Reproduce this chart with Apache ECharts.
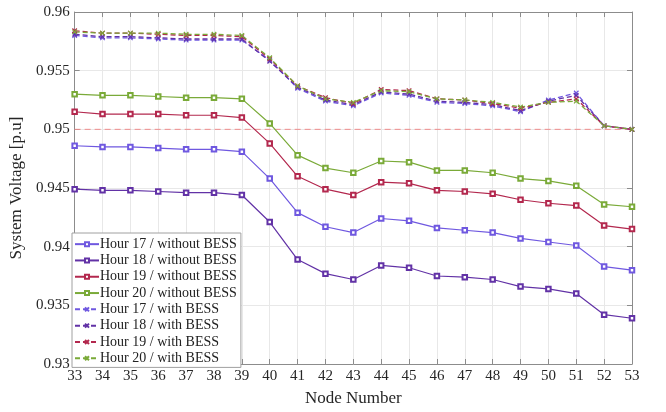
<!DOCTYPE html>
<html>
<head>
<meta charset="utf-8">
<script src="https://cdn.jsdelivr.net/npm/echarts@6/dist/echarts.min.js"></script>
<style>
    html, body { margin: 0; padding: 0; background: #fff; }
    #main { width: 666px; height: 412px; }
</style>
</head>
<body>
<div id="main"></div>
<script>
// 节点编号
let nodes = ['33','34','35','36','37','38','39','40','41','42','43','44','45','46','47','48','49','50','51','52','53'];
// 无储能时各小时电压
let h17Without = [0.9486,0.9485,0.9485,0.9484,0.9483,0.9483,0.9481,0.9458,0.9429,0.9417,0.9412,0.9424,0.9422,0.9416,0.9414,0.9412,0.9407,0.9404,0.9401,0.9383,0.9380];
let h18Without = [0.9449,0.9448,0.9448,0.9447,0.9446,0.9446,0.9444,0.9421,0.9389,0.9377,0.9372,0.9384,0.9382,0.9375,0.9374,0.9372,0.9366,0.9364,0.9360,0.9342,0.9339];
let h19Without = [0.9515,0.9513,0.9513,0.9513,0.9512,0.9512,0.9510,0.9488,0.9460,0.9449,0.9444,0.9455,0.9454,0.9448,0.9447,0.9445,0.9440,0.9437,0.9435,0.9418,0.9415];
let h20Without = [0.9530,0.9529,0.9529,0.9528,0.9527,0.9527,0.9526,0.9505,0.9478,0.9467,0.9463,0.9473,0.9472,0.9465,0.9465,0.9463,0.9458,0.9456,0.9452,0.9436,0.9434];
// 有储能时各小时电压
let h17With = [0.9580,0.9578,0.9578,0.9577,0.9576,0.9576,0.9576,0.9559,0.9535,0.9524,0.9520,0.9531,0.9529,0.9523,0.9522,0.9520,0.9515,0.9525,0.9531,0.9503,0.9500];
let h18With = [0.9581,0.9579,0.9579,0.9578,0.9577,0.9577,0.9577,0.9558,0.9536,0.9525,0.9521,0.9532,0.9530,0.9524,0.9523,0.9521,0.9516,0.9524,0.9529,0.9503,0.9500];
let h19With = [0.9584,0.9582,0.9582,0.9581,0.9580,0.9580,0.9579,0.9560,0.9537,0.9527,0.9522,0.9534,0.9533,0.9526,0.9525,0.9522,0.9518,0.9523,0.9526,0.9503,0.9500];
let h20With = [0.9583,0.9582,0.9582,0.9582,0.9581,0.9581,0.9580,0.9561,0.9537,0.9526,0.9523,0.9533,0.9532,0.9526,0.9525,0.9523,0.9519,0.9523,0.9524,0.9503,0.9500];
// 电压下限 (首尾两个节点)
let limitLine = [['33', 0.95], ['53', 0.95]];

let font = 'Liberation Serif';
let colors = ['#6f58e0', '#6232a6', '#b3284e', '#7aaa38'];
let xMark = 'path://M0,0L10,10M10,0L0,10';

function solid(name, data, color) {
    return {
        name: name,
        type: 'line',
        data: data,
        symbol: 'emptyRect',
        symbolSize: 4.5,
        lineStyle: { width: 1.2, color: color },
        itemStyle: { color: color, borderWidth: 1 },
        animation: false
    };
}
function dashed(name, data, color) {
    return {
        name: name,
        type: 'line',
        data: data,
        symbol: xMark,
        symbolSize: 4.5,
        lineStyle: { width: 1.3, color: color, type: [5, 3] },
        itemStyle: { color: color, borderColor: color, borderWidth: 1.2 },
        animation: false
    };
}

// 0.95 参考线
let refLine = {
    name: 'limit',
    type: 'line',
    data: limitLine,
    symbol: 'none',
    silent: true,
    lineStyle: { color: '#f08c8c', type: [6, 4], width: 1 },
    animation: false
};

let series = [
    refLine,
    solid('Hour 17 / without BESS', h17Without, colors[0]),
    solid('Hour 18 / without BESS', h18Without, colors[1]),
    solid('Hour 19 / without BESS', h19Without, colors[2]),
    solid('Hour 20 / without BESS', h20Without, colors[3]),
    dashed('Hour 17 / with BESS', h17With, colors[0]),
    dashed('Hour 18 / with BESS', h18With, colors[1]),
    dashed('Hour 19 / with BESS', h19With, colors[2]),
    dashed('Hour 20 / with BESS', h20With, colors[3])
];

let myChart = echarts.init(document.getElementById('main'));
let option = {
    backgroundColor: '#fff',
    grid: { left: 72, right: 34, top: 12, bottom: 44 },
    legend: {
        orient: 'vertical',
        left: 72,
        top: 233,
        itemWidth: 24,
        itemHeight: 5,
        itemGap: 0,
        padding: [3, 4, 1, 2],
        backgroundColor: '#fff',
        borderColor: '#a0a0a0',
        borderWidth: 1,
        textStyle: { fontFamily: font, fontSize: 14, lineHeight: 16.3, color: '#222', padding: [0, 0, 0, -4] },
        data: series.slice(1).map(s => s.name)
    },
    xAxis: [{
        type: 'category',
        data: nodes,
        boundaryGap: false,
        name: 'Node Number',
        nameLocation: 'middle',
        nameGap: 26,
        nameTextStyle: { fontFamily: font, fontSize: 17, color: '#262626' },
        axisLine: { lineStyle: { color: '#8c8c8c' } },
        axisTick: { inside: true, length: 5, lineStyle: { color: '#8c8c8c' } },
        axisLabel: { fontFamily: font, fontSize: 15, color: '#262626', margin: 5 },
        splitLine: { show: true, lineStyle: { color: '#e8e8e8' } }
    }, {
        type: 'category',
        data: nodes,
        boundaryGap: false,
        position: 'top',
        axisLine: { lineStyle: { color: '#8c8c8c' } },
        axisTick: { inside: true, length: 5, lineStyle: { color: '#8c8c8c' } },
        axisLabel: { show: false }
    }],
    yAxis: [{
        type: 'value',
        min: 0.93,
        max: 0.96,
        interval: 0.005,
        name: 'System Voltage [p.u]',
        nameLocation: 'middle',
        nameGap: 42,
        nameTextStyle: { fontFamily: font, fontSize: 17, color: '#262626' },
        axisLine: { show: true, lineStyle: { color: '#8c8c8c' } },
        axisTick: { show: true, inside: true, length: 5, lineStyle: { color: '#8c8c8c' } },
        axisLabel: { fontFamily: font, fontSize: 15, color: '#262626', margin: 5 },
        splitLine: { show: true, lineStyle: { color: '#e8e8e8' } }
    }, {
        type: 'value',
        min: 0.93,
        max: 0.96,
        interval: 0.005,
        position: 'right',
        axisLine: { show: true, lineStyle: { color: '#8c8c8c' } },
        axisTick: { show: true, inside: true, length: 5, lineStyle: { color: '#8c8c8c' } },
        axisLabel: { show: false },
        splitLine: { show: false }
    }],
    series: series
};
myChart.setOption(option);
</script>
</body>
</html>
